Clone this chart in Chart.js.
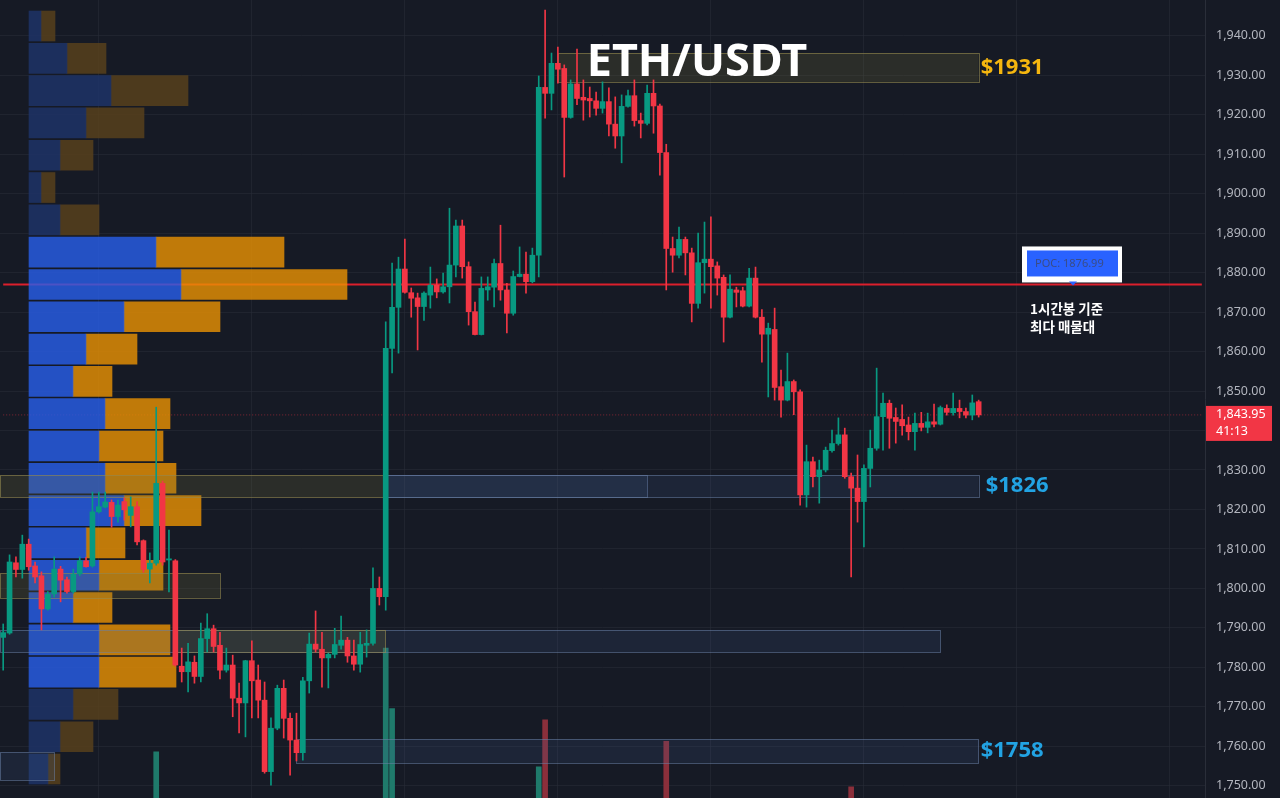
<!DOCTYPE html>
<html lang="ko">
<head>
<meta charset="utf-8">
<title>ETH/USDT</title>
<script src="https://cdn.jsdelivr.net/npm/chart.js@4.4.1/dist/chart.umd.min.js"></script>
<style>
  html, body { margin: 0; padding: 0; background: #161a25; overflow: hidden; }
  .wrap { position: relative; width: 1280px; height: 798px; }
</style>
</head>
<body>
<div class="wrap"><canvas id="priceChart"></canvas></div>
<script>
// 1h candles (index 0 = leftmost candle)
const opens = [
  1787.6, 1788.7, 1806.5, 1804.8, 1811.2, 1805.7, 1803.2, 1794.8, 1798.6, 1804.9,
  1802.2, 1799.2, 1803.7, 1807.0, 1805.7, 1819.4, 1820.6, 1821.8, 1818.2, 1822.0,
  1818.5, 1820.7, 1812.1, 1804.9, 1806.4, 1826.6, 1807.2, 1807.0, 1780.3, 1778.9,
  1781.3, 1777.7, 1787.3, 1789.8, 1785.6, 1779.3, 1780.6, 1772.2, 1771.0, 1781.7,
  1776.8, 1771.7, 1753.6, 1764.6, 1774.7, 1767.1, 1761.6, 1758.4, 1776.6, 1785.9,
  1784.6, 1782.4, 1783.3, 1785.6, 1786.9, 1782.9, 1780.8, 1785.6, 1786.1, 1800.0,
  1797.9, 1860.8, 1871.2, 1880.9, 1874.9, 1873.6, 1871.4, 1874.3, 1876.8, 1875.1,
  1876.4, 1881.9, 1891.8, 1881.5, 1870.1, 1864.3, 1875.6, 1876.3, 1882.3, 1875.6,
  1869.7, 1879.0, 1879.6, 1877.7, 1884.4, 1926.9, 1925.4, 1933.0, 1931.7, 1919.3,
  1927.8, 1924.4, 1924.1, 1923.5, 1921.6, 1923.3, 1917.6, 1914.6, 1922.1, 1924.8,
  1918.5, 1917.8, 1925.4, 1922.2, 1910.4, 1886.1, 1884.4, 1888.4, 1885.0, 1872.2,
  1882.5, 1883.4, 1881.7, 1878.8, 1868.7, 1875.6, 1875.4, 1871.5, 1878.6, 1868.7,
  1864.4, 1865.6, 1851.1, 1847.7, 1852.4, 1849.8, 1823.7, 1832.1, 1828.3, 1830.0,
  1834.9, 1836.7, 1838.9, 1828.3, 1825.4, 1822.0, 1830.4, 1835.5, 1843.5, 1846.9,
  1843.3, 1842.8, 1841.4, 1839.7, 1841.8, 1840.8, 1842.2, 1841.6, 1845.6, 1844.5,
  1845.6, 1844.8, 1843.9, 1847.3
];
const highs = [
  1791.0, 1808.5, 1808.0, 1813.5, 1812.5, 1806.7, 1804.2, 1799.2, 1808.0, 1805.6,
  1802.9, 1804.9, 1808.0, 1807.9, 1824.4, 1824.4, 1824.4, 1822.4, 1822.4, 1822.9,
  1823.2, 1822.0, 1812.3, 1809.0, 1845.9, 1827.2, 1814.8, 1807.3, 1784.9, 1786.1,
  1782.9, 1791.2, 1793.6, 1790.7, 1788.9, 1784.9, 1783.1, 1776.0, 1781.8, 1786.7,
  1780.6, 1776.3, 1767.2, 1775.5, 1776.8, 1768.4, 1768.4, 1777.5, 1788.7, 1794.3,
  1788.9, 1783.6, 1789.9, 1793.0, 1787.6, 1786.9, 1788.9, 1789.5, 1805.2, 1802.9,
  1867.5, 1882.4, 1883.9, 1888.5, 1876.1, 1874.8, 1875.1, 1881.4, 1878.4, 1879.9,
  1896.3, 1893.3, 1893.3, 1882.7, 1872.5, 1878.9, 1878.9, 1883.4, 1892.0, 1877.3,
  1880.4, 1886.5, 1885.2, 1886.2, 1929.8, 1946.5, 1935.6, 1937.1, 1932.6, 1928.8,
  1936.6, 1928.8, 1927.0, 1925.7, 1928.3, 1926.8, 1924.5, 1925.0, 1926.2, 1928.8,
  1920.4, 1927.5, 1928.8, 1922.7, 1912.5, 1889.0, 1891.5, 1889.0, 1886.2, 1890.0,
  1892.8, 1894.1, 1882.7, 1879.4, 1879.4, 1876.3, 1876.3, 1881.1, 1881.4, 1870.6,
  1867.2, 1871.0, 1855.3, 1859.6, 1852.8, 1850.3, 1836.3, 1833.3, 1832.5, 1835.8,
  1840.1, 1843.2, 1840.6, 1829.2, 1833.8, 1831.3, 1840.1, 1855.8, 1849.5, 1847.7,
  1845.7, 1846.5, 1843.4, 1844.4, 1844.6, 1844.4, 1846.7, 1846.2, 1846.5, 1849.5,
  1847.7, 1845.7, 1849.0, 1847.7
];
const lows = [
  1779.3, 1788.4, 1802.9, 1802.6, 1804.6, 1801.4, 1789.5, 1794.5, 1797.8, 1796.6,
  1798.8, 1798.8, 1803.2, 1805.4, 1805.4, 1819.1, 1820.4, 1815.5, 1816.8, 1817.3,
  1815.6, 1811.0, 1804.1, 1801.4, 1805.9, 1805.9, 1799.1, 1780.3, 1776.3, 1773.8,
  1776.0, 1776.3, 1783.9, 1783.9, 1777.1, 1778.8, 1767.5, 1763.4, 1762.4, 1767.2,
  1767.2, 1753.2, 1750.2, 1764.2, 1762.1, 1752.7, 1756.3, 1756.5, 1773.5, 1783.9,
  1775.0, 1774.8, 1782.4, 1784.6, 1781.3, 1779.3, 1778.8, 1782.6, 1785.6, 1795.8,
  1794.5, 1854.6, 1859.6, 1874.8, 1868.7, 1860.4, 1867.9, 1871.0, 1873.6, 1874.8,
  1872.3, 1878.9, 1878.6, 1866.7, 1864.2, 1864.2, 1873.0, 1871.3, 1873.0, 1864.7,
  1869.2, 1878.9, 1874.8, 1877.4, 1878.9, 1919.1, 1921.2, 1928.0, 1904.2, 1919.1,
  1922.5, 1918.6, 1919.4, 1919.9, 1920.4, 1914.6, 1911.5, 1907.8, 1921.9, 1917.1,
  1914.1, 1917.4, 1915.3, 1904.7, 1875.6, 1880.1, 1883.7, 1879.4, 1867.5, 1871.0,
  1874.8, 1871.0, 1874.3, 1862.4, 1868.5, 1871.3, 1871.3, 1871.3, 1868.5, 1857.3,
  1848.5, 1847.7, 1843.4, 1847.5, 1844.0, 1821.1, 1820.6, 1825.7, 1821.6, 1829.5,
  1834.5, 1836.3, 1827.9, 1802.9, 1816.8, 1810.5, 1825.7, 1835.0, 1835.0, 1835.5,
  1836.8, 1838.8, 1837.6, 1835.0, 1839.9, 1839.4, 1840.9, 1841.4, 1843.9, 1843.9,
  1843.2, 1843.2, 1842.7, 1843.4
];
const closes = [
  1788.8, 1806.7, 1804.8, 1811.2, 1805.5, 1802.9, 1794.8, 1798.5, 1804.9, 1802.1,
  1799.2, 1803.6, 1807.0, 1805.5, 1819.4, 1820.7, 1821.9, 1818.2, 1821.1, 1819.9,
  1820.7, 1811.8, 1804.8, 1806.4, 1826.6, 1806.7, 1807.5, 1780.6, 1778.9, 1781.4,
  1777.7, 1787.3, 1789.8, 1785.3, 1779.3, 1780.6, 1772.2, 1771.0, 1781.7, 1776.6,
  1771.7, 1753.6, 1764.6, 1774.7, 1767.1, 1761.6, 1758.4, 1776.6, 1785.9, 1784.6,
  1782.4, 1783.3, 1785.8, 1786.9, 1782.9, 1780.8, 1785.8, 1786.1, 1800.0, 1797.9,
  1860.8, 1871.2, 1880.9, 1875.0, 1873.5, 1871.4, 1874.8, 1876.8, 1875.1, 1876.4,
  1881.9, 1891.8, 1881.5, 1870.1, 1864.3, 1876.0, 1876.4, 1882.3, 1875.6, 1869.7,
  1879.0, 1879.6, 1877.7, 1884.4, 1926.9, 1925.4, 1933.0, 1931.5, 1919.3, 1927.8,
  1924.1, 1923.7, 1923.5, 1921.6, 1923.3, 1917.6, 1914.6, 1922.1, 1924.8, 1918.5,
  1917.8, 1925.4, 1922.2, 1910.4, 1886.1, 1884.4, 1888.4, 1885.0, 1872.2, 1882.5,
  1883.4, 1881.5, 1878.6, 1868.7, 1875.8, 1875.0, 1871.5, 1878.6, 1868.7, 1864.4,
  1865.9, 1850.9, 1847.7, 1852.4, 1849.8, 1823.7, 1832.1, 1828.3, 1830.0, 1835.0,
  1836.7, 1838.9, 1828.3, 1825.4, 1822.0, 1830.4, 1835.5, 1843.5, 1846.9, 1843.1,
  1842.3, 1841.2, 1839.7, 1841.8, 1840.8, 1842.2, 1841.6, 1845.8, 1844.6, 1845.6,
  1844.8, 1843.9, 1847.0, 1843.95
];

// only the tallest volume bars reach into the visible pane
const volIndex = [24, 60, 61, 84, 85, 104, 133];
const volValue = [35.8, 48.8, 41.2, 33.9, 39.8, 37.1, 31.4];

// volume profile rows (price level, buy width, sell width)
const profileLevels = [
  1942.45, 1934.27, 1926.09, 1917.90, 1909.72, 1901.54, 1893.36, 1885.17,
  1876.99, 1868.81, 1860.63, 1852.44, 1844.26, 1836.08, 1827.90, 1819.72,
  1811.53, 1803.35, 1795.17, 1786.99, 1778.81, 1770.62, 1762.44, 1754.26
];
const profileUp = [12, 38, 82, 57, 31, 12, 31, 127, 152, 95, 57, 44, 76, 70, 76, 95, 57, 70, 44, 70, 70, 44, 31, 19];
const profileDown = [14, 39, 77, 58, 33, 14, 39, 128, 166, 96, 51, 39, 65, 64, 71, 77, 39, 64, 39, 71, 77, 45, 33, 12];
const valueAreaHigh = 1885.17;
const valueAreaLow = 1778.81;

const pocPrice = 1876.99;
const lastPrice = 1843.95;
const countdown = '41:13';

// drawn boxes: candle index span and price span
const zoneFrom = [87, -0.5, 60, 60, -0.5, -0.5, 27, -0.5, 46];
const zoneTo = [153, 60, 101, 153, 34, 147, 60, 8, 153];
const zoneHigh = [1935.6, 1828.7, 1828.7, 1828.7, 1803.9, 1789.5, 1789.5, 1758.5, 1761.8];
const zoneLow = [1928.3, 1823.1, 1823.1, 1823.1, 1797.6, 1783.9, 1783.9, 1751.5, 1755.8];

const levelLabels = ['$1931', '$1826', '$1758'];
const levelPrices = [1931.95, 1825.9, 1758.8];

const SLOTS = 189; // candles plus the empty space on the right


document.addEventListener("DOMContentLoaded", function () {

  const UP = '#089981';
  const DOWN = '#f23645';
  const zoneTone = ['gold', 'gold', 'blue', 'blue', 'gold', 'blue', 'gold', 'blue', 'blue'];
  const zoneStyle = {
    gold: { fill: 'rgba(120,112,60,0.22)', line: 'rgba(150,138,80,0.6)' },
    blue: { fill: 'rgba(70,100,150,0.16)', line: 'rgba(105,128,165,0.55)' }
  };
  const levelColors = ['#f5b60f', '#22a3e3', '#22a3e3'];

  const n = opens.length;
  const labels = [];
  for (let i = 0; i < SLOTS; i++) labels.push(String(i));

  const candleColors = opens.map((o, i) => closes[i] >= o ? UP : DOWN);
  const bodies = opens.map((o, i) => [o, closes[i]]);
  const wicks = lows.map((l, i) => [l, highs[i]]);

  const volumes = new Array(n).fill(null);
  volIndex.forEach((idx, k) => { volumes[idx] = volValue[k]; });
  const volColors = candleColors.map(c => c === UP ? '#1f7a6b' : '#8b2f3b');

  const inVA = p => p <= valueAreaHigh + 0.01 && p >= valueAreaLow - 0.01;
  const upColors = profileLevels.map(p => inVA(p) ? 'rgba(40,95,236,0.8)' : 'rgba(30,52,108,0.8)');
  const downColors = profileLevels.map(p => inVA(p) ? 'rgba(235,146,2,0.8)' : 'rgba(91,66,27,0.8)');


  // boxes go under the candles, over the profile
  const zonePlugin = {
    id: 'zones',
    beforeDatasetDraw(chart, args) {
      if (chart.data.datasets[args.index].label !== 'wick') return;
      const { ctx, chartArea, scales } = chart;
      const x = scales.x, y = scales.y;
      ctx.save();
      ctx.beginPath();
      ctx.rect(chartArea.left, chartArea.top, chartArea.width, chartArea.height);
      ctx.clip();
      zoneFrom.forEach((from, k) => {
        const x0 = x.getPixelForValue(from);
        const x1 = x.getPixelForValue(zoneTo[k]);
        const y0 = y.getPixelForValue(zoneHigh[k]);
        const y1 = y.getPixelForValue(zoneLow[k]);
        const st = zoneStyle[zoneTone[k]];
        ctx.fillStyle = st.fill;
        ctx.fillRect(x0, y0, x1 - x0, y1 - y0);
        ctx.strokeStyle = st.line;
        ctx.lineWidth = 1;
        ctx.strokeRect(Math.round(x0) + 0.5, Math.round(y0) + 0.5, Math.round(x1 - x0), Math.round(y1 - y0));
      });
      ctx.restore();
    }
  };


  // texts, POC tag and last-price tag
  const notePlugin = {
    id: 'notes',
    afterDraw(chart) {
      const { ctx, chartArea, scales } = chart;
      const x = scales.x, y = scales.y;
      ctx.save();

      ctx.fillStyle = '#ffffff';
      ctx.font = 'bold 45px "Noto Sans", sans-serif';
      ctx.textAlign = 'center';
      ctx.textBaseline = 'alphabetic';
      ctx.fillText('ETH/USDT', 697, 76);

      ctx.textAlign = 'left';
      ctx.textBaseline = 'middle';
      ctx.font = 'bold 22px "Noto Sans", sans-serif';
      const xEnd = x.getPixelForValue(zoneTo[0]);
      levelLabels.forEach((t, k) => {
        ctx.fillStyle = levelColors[k];
        ctx.fillText(t, xEnd + (k === 1 ? 7 : 2), y.getPixelForValue(levelPrices[k]));
      });

      // POC tag
      const yPoc = y.getPixelForValue(pocPrice);
      ctx.fillStyle = '#ffffff';
      ctx.fillRect(1022, yPoc - 38, 100, 36);
      ctx.fillStyle = '#2962ff';
      ctx.fillRect(1027, yPoc - 34, 91, 26);
      ctx.beginPath();
      ctx.moveTo(1069, yPoc - 3);
      ctx.lineTo(1077, yPoc - 3);
      ctx.lineTo(1073, yPoc + 1);
      ctx.closePath();
      ctx.fill();
      ctx.fillStyle = '#3b4d86';
      ctx.font = '11px "Noto Sans", sans-serif';
      ctx.fillText('POC: 1876.99', 1035, yPoc - 21);

      ctx.fillStyle = '#ffffff';
      ctx.font = 'bold 13.5px "Noto Sans CJK KR", sans-serif';
      ctx.fillText('1시간봉 기준', 1030, yPoc + 24);
      ctx.fillText('최다 매물대', 1030, yPoc + 42);

      // last price tag on the axis
      const yLast = y.getPixelForValue(lastPrice);
      ctx.fillStyle = DOWN;
      ctx.fillRect(chartArea.right + 1, yLast - 9, 66, 35);
      ctx.fillStyle = '#ffffff';
      ctx.font = '12.5px "Noto Sans", sans-serif';
      ctx.fillText(lastPrice.toLocaleString('en-US', { minimumFractionDigits: 2 }), chartArea.right + 11, yLast);
      ctx.fillText(countdown, chartArea.right + 11, yLast + 17);

      ctx.restore();
    }
  };


  new Chart(document.getElementById('priceChart'), {
    type: 'bar',
    data: {
      labels: labels,
      datasets: [
        {
          label: 'body',
          data: bodies,
          backgroundColor: candleColors,
          barThickness: 5,
          grouped: false,
          order: 1
        },
        {
          label: 'wick',
          data: wicks,
          backgroundColor: candleColors,
          barThickness: 1,
          grouped: false,
          order: 2
        },
        {
          label: 'profileUp',
          indexAxis: 'y',
          xAxisID: 'xp',
          yAxisID: 'y',
          data: profileLevels.map((p, k) => ({ y: p, x: [0, profileUp[k]] })),
          backgroundColor: upColors,
          barThickness: 30,
          grouped: false,
          order: 5
        },
        {
          label: 'profileDown',
          indexAxis: 'y',
          xAxisID: 'xp',
          yAxisID: 'y',
          data: profileLevels.map((p, k) => ({ y: p, x: [profileUp[k], profileUp[k] + profileDown[k]] })),
          backgroundColor: downColors,
          barThickness: 30,
          grouped: false,
          order: 5
        },
        {
          label: 'poc',
          type: 'line',
          data: labels.map(() => pocPrice),
          borderColor: '#dc1f2c',
          borderWidth: 2,
          pointRadius: 0,
          order: 6
        },
        {
          label: 'last',
          type: 'line',
          data: labels.map(() => lastPrice),
          borderColor: 'rgba(242,54,69,0.5)',
          borderWidth: 1,
          borderDash: [1, 2],
          pointRadius: 0,
          order: 7
        },
        {
          label: 'volume',
          yAxisID: 'yv',
          data: volumes,
          backgroundColor: volColors,
          barThickness: 5,
          grouped: false,
          clip: 0,
          order: 8
        }
      ]
    },

    options: {
      responsive: true,
      maintainAspectRatio: false,
      animation: false,
      events: [],
      layout: { padding: 0 },

      plugins: {
        legend: { display: false },
        tooltip: { enabled: false }
      },

      scales: {
        x: {
          type: 'category',
          offset: true,
          grid: {
            offset: false,
            drawTicks: false,
            color: c => c.index % 24 === 15 ? 'rgba(42,46,57,0.55)' : 'transparent'
          },
          border: { display: false },
          ticks: { display: false, autoSkip: false },
          afterFit: s => { s.height = 0; s.paddingLeft = 0; s.paddingRight = 0; }
        },

        y: {
          type: 'linear',
          position: 'right',
          min: 1746.92,
          max: 1949.04,
          offset: false,
          beginAtZero: false,
          grid: {
            offset: false,
            drawTicks: false,
            color: 'rgba(42,46,57,0.5)'
          },
          border: { color: '#2a2e39' },
          ticks: {
            stepSize: 10,
            includeBounds: false,
            padding: 11,
            color: '#b2b5be',
            font: { family: '"Noto Sans", sans-serif', size: 12.5 },
            callback: v => v.toLocaleString('en-US', { minimumFractionDigits: 2, maximumFractionDigits: 2 })
          },
          afterFit: s => { s.width = 75; s.paddingTop = 0; s.paddingBottom = 0; }
        },

        xp: {
          type: 'linear',
          axis: 'x',
          display: false,
          min: -29,
          max: 1176,
          offset: false,
          beginAtZero: false
        },

        yv: {
          type: 'linear',
          axis: 'y',
          display: false,
          min: 30,
          max: 130,
          beginAtZero: false
        }
      }
    },

    plugins: [zonePlugin, notePlugin]
  });

});
</script>
</body>
</html>
